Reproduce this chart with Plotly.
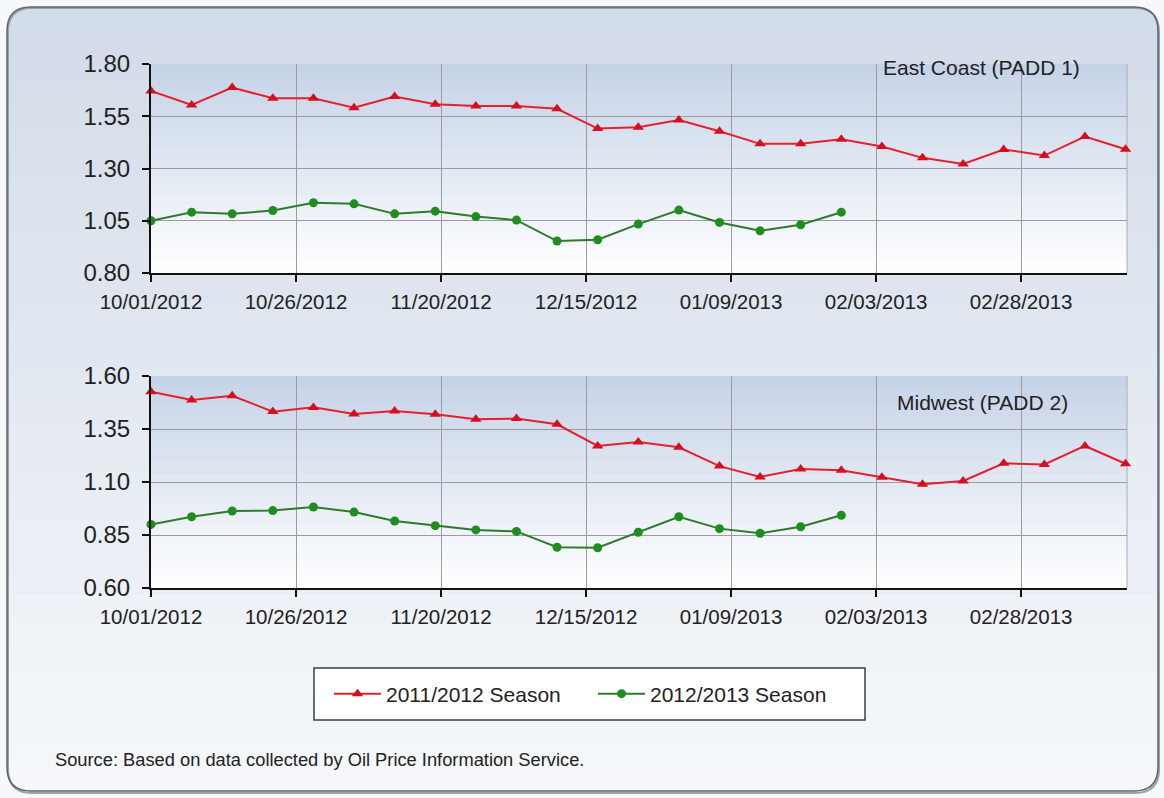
import plotly.graph_objects as go

W, H = 1164, 798

# ---------------- data ----------------
weeks = ["2012-10-01", "2012-10-08", "2012-10-15", "2012-10-22", "2012-10-29",
         "2012-11-05", "2012-11-12", "2012-11-19", "2012-11-26", "2012-12-03",
         "2012-12-10", "2012-12-17", "2012-12-24", "2012-12-31", "2013-01-07",
         "2013-01-14", "2013-01-21", "2013-01-28", "2013-02-04", "2013-02-11",
         "2013-02-18", "2013-02-25", "2013-03-04", "2013-03-11", "2013-03-18"]

series_names = ["2011/2012 Season", "2012/2013 Season"]
panel_titles = ["East Coast (PADD 1)", "Midwest (PADD 2)"]

east_prev = [1.671, 1.604, 1.687, 1.636, 1.636, 1.591, 1.644, 1.608, 1.599, 1.599,
             1.586, 1.491, 1.497, 1.532, 1.478, 1.418, 1.419, 1.440, 1.405, 1.351,
             1.322, 1.391, 1.362, 1.453, 1.392]
east_curr = [1.050, 1.091, 1.083, 1.099, 1.136, 1.131, 1.083, 1.096, 1.070, 1.053,
             0.953, 0.959, 1.034, 1.101, 1.042, 1.002, 1.031, 1.091]
mid_prev = [1.526, 1.487, 1.507, 1.432, 1.452, 1.421, 1.435, 1.419, 1.396, 1.399,
            1.372, 1.270, 1.289, 1.264, 1.175, 1.124, 1.161, 1.155, 1.122, 1.089,
            1.105, 1.188, 1.183, 1.270, 1.186]
mid_curr = [0.900, 0.936, 0.963, 0.965, 0.982, 0.958, 0.916, 0.894, 0.874, 0.867,
            0.792, 0.790, 0.863, 0.936, 0.880, 0.858, 0.889, 0.943]

source_text = "Source: Based on data collected by Oil Price Information Service."

# ---------------- helpers ----------------
def px(x):
    return x / W

def py(y):
    return 1 - y / H

def lerp_color(c1, c2, t):
    a = [int(c1[i:i + 2], 16) for i in (1, 3, 5)]
    b = [int(c2[i:i + 2], 16) for i in (1, 3, 5)]
    return "rgb(%d,%d,%d)" % tuple(round(a[k] + (b[k] - a[k]) * t) for k in range(3))

RED_LINE, RED_MK = "#e3202e", "#d4101f"
GRN_LINE, GRN_MK = "#2e7a2e", "#1e8f1e"
FONT = "Liberation Sans, Arial, sans-serif"

fig = go.Figure()

def add_pair(prev, curr, xa, ya, show):
    fig.add_trace(go.Scatter(
        x=weeks[:len(prev)], y=prev, xaxis=xa, yaxis=ya, mode="lines+markers",
        name=series_names[0], legendgroup="a", showlegend=show,
        line=dict(color=RED_LINE, width=2),
        marker=dict(symbol="triangle-up", size=10, color=RED_MK),
        cliponaxis=False))
    fig.add_trace(go.Scatter(
        x=weeks[:len(curr)], y=curr, xaxis=xa, yaxis=ya, mode="lines+markers",
        name=series_names[1], legendgroup="b", showlegend=show,
        line=dict(color=GRN_LINE, width=2),
        marker=dict(symbol="circle", size=9, color=GRN_MK),
        cliponaxis=False))

add_pair(east_prev, east_curr, "x", "y", True)
add_pair(mid_prev, mid_curr, "x2", "y2", False)

shapes = []

# ---- outer frame with vertical gradient ----
L, R, T, B, RAD = 7, 1158, 7, 791, 24
top_c, bot_c = "#d3dce9", "#f5f7fa"
rx, ry = RAD / W, RAD / H

def rounded_path(x0, y0, x1, y1, top_round, bot_round):
    X0, X1, Y0, Y1 = px(x0), px(x1), py(y0), py(y1)
    p = []
    if top_round:
        p.append("M %f,%f" % (X0, Y0 - ry))
        p.append("Q %f,%f %f,%f" % (X0, Y0, X0 + rx, Y0))
        p.append("L %f,%f" % (X1 - rx, Y0))
        p.append("Q %f,%f %f,%f" % (X1, Y0, X1, Y0 - ry))
    else:
        p.append("M %f,%f" % (X0, Y0))
        p.append("L %f,%f" % (X1, Y0))
    if bot_round:
        p.append("L %f,%f" % (X1, Y1 + ry))
        p.append("Q %f,%f %f,%f" % (X1, Y1, X1 - rx, Y1))
        p.append("L %f,%f" % (X0 + rx, Y1))
        p.append("Q %f,%f %f,%f" % (X0, Y1, X0, Y1 + ry))
    else:
        p.append("L %f,%f" % (X1, Y1))
        p.append("L %f,%f" % (X0, Y1))
    p.append("Z")
    return " ".join(p)

shapes.append(dict(type="path", xref="paper", yref="paper", layer="below",
                   path=rounded_path(L, T, R, T + RAD, True, False),
                   fillcolor=top_c, line=dict(width=0)))
N = 30
y_start, y_end = T + RAD, B - RAD
for i in range(N):
    ya0 = y_start + (y_end - y_start) * i / N
    ya1 = y_start + (y_end - y_start) * (i + 1) / N
    shapes.append(dict(type="rect", xref="paper", yref="paper", layer="below",
                       x0=px(L), x1=px(R), y0=py(ya0), y1=py(ya1 + 0.6),
                       fillcolor=lerp_color(top_c, bot_c, (i + 0.5) / N),
                       line=dict(width=0)))
shapes.append(dict(type="path", xref="paper", yref="paper", layer="below",
                   path=rounded_path(L, B - RAD, R, B, False, True),
                   fillcolor=bot_c, line=dict(width=0)))
# shadow + border
shapes.append(dict(type="path", xref="paper", yref="paper", layer="below",
                   path=rounded_path(L + 1, T + 1, R + 1, B + 2, True, True),
                   fillcolor="rgba(0,0,0,0)", line=dict(color="#9aa0a8", width=2)))
shapes.append(dict(type="path", xref="paper", yref="paper", layer="below",
                   path=rounded_path(L, T, R, B, True, True),
                   fillcolor="rgba(0,0,0,0)", line=dict(color="#5f6670", width=1.5)))

# ---- plot area gradients ----
for xa, ya in (("x", "y"), ("x2", "y2")):
    M = 30
    for i in range(M):
        shapes.append(dict(type="rect", xref=xa + " domain", yref=ya + " domain",
                           layer="below", x0=0, x1=1,
                           y0=1 - (i + 1) / M - 0.002, y1=1 - i / M,
                           fillcolor=lerp_color("#c5d2e7", "#ffffff", (i + 0.5) / M),
                           line=dict(width=0)))
    shapes.append(dict(type="line", xref=xa + " domain", yref=ya + " domain",
                       x0=1, x1=1, y0=0, y1=1, layer="below",
                       line=dict(color="#a8adb4", width=1)))

# ---- legend box ----
shapes.append(dict(type="rect", xref="paper", yref="paper", layer="below",
                   x0=px(314), x1=px(865), y0=py(720), y1=py(668),
                   fillcolor="#ffffff", line=dict(color="#3a3f46", width=1.5)))

annotations = [
    dict(text=panel_titles[0], x=px(981), y=py(67), xref="paper", yref="paper",
         showarrow=False, xanchor="center", yanchor="middle",
         font=dict(family=FONT, size=21, color="#222222")),
    dict(text=panel_titles[1], x=px(982), y=py(402), xref="paper", yref="paper",
         showarrow=False, xanchor="center", yanchor="middle",
         font=dict(family=FONT, size=21, color="#222222")),
    dict(text=source_text, x=px(53), y=py(759), xref="paper", yref="paper",
         showarrow=False, xanchor="left", yanchor="middle",
         font=dict(family=FONT, size=18.3, color="#222222")),
]

xdom = [px(151), px(1127)]
common_x = dict(type="date", range=["2012-10-01", "2013-03-18 06:00"],
                tick0="2012-10-01", dtick=25 * 86400000, tickformat="%m/%d/%Y",
                showgrid=True, gridcolor="#9c9c9c", gridwidth=1,
                showline=True, linecolor="#111111", linewidth=2,
                ticks="outside", ticklen=7, tickwidth=1.5, tickcolor="#111111",
                tickfont=dict(family=FONT, size=20.5, color="#222222"),
                ticklabelstandoff=2, zeroline=False, domain=xdom, fixedrange=True,
                automargin=False)
common_y = dict(dtick=0.25, tickformat=".2f", showgrid=True, gridcolor="#9c9c9c",
                gridwidth=1, showline=True, linecolor="#111111", linewidth=2,
                ticks="outside", ticklen=7, tickwidth=1.5, tickcolor="#111111",
                tickfont=dict(family=FONT, size=24, color="#222222"),
                ticklabelstandoff=7, zeroline=False, fixedrange=True,
                automargin=False)

fig.update_layout(
    width=W, height=H, autosize=False,
    margin=dict(l=0, r=0, t=0, b=0, pad=0, autoexpand=False),
    paper_bgcolor="#f7f8fa",
    plot_bgcolor="rgba(0,0,0,0)",
    xaxis=dict(common_x, anchor="y"),
    yaxis=dict(common_y, range=[0.80, 1.80], tick0=0.80, anchor="x",
               domain=[py(273), py(64)]),
    xaxis2=dict(common_x, anchor="y2"),
    yaxis2=dict(common_y, range=[0.60, 1.60], tick0=0.60, anchor="x2",
                domain=[py(588), py(376)]),
    shapes=shapes,
    annotations=annotations,
    showlegend=True,
    legend=dict(orientation="h", x=px(329), xanchor="left", y=py(694),
                yanchor="middle", bgcolor="rgba(0,0,0,0)", borderwidth=0,
                font=dict(family=FONT, size=21, color="#222222"),
                itemwidth=47, entrywidth=202, entrywidthmode="pixels"),
    hovermode=False,
)

fig.write_html("out.html", config={"responsive": False, "displayModeBar": False},
               post_script="document.body.style.margin='0';document.body.style.overflow='hidden';")
